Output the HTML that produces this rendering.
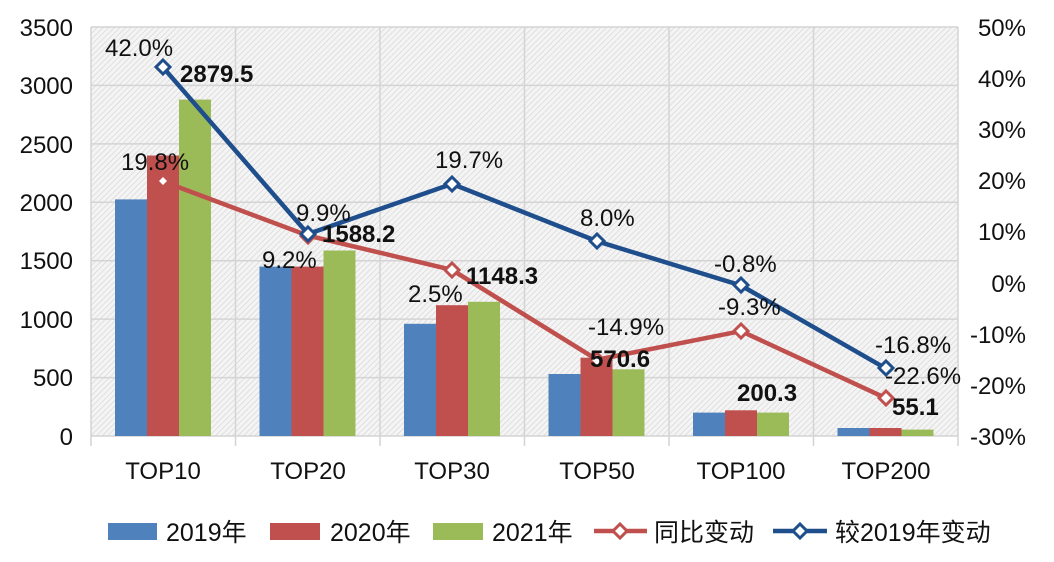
<!DOCTYPE html>
<html><head><meta charset="utf-8"><style>
body{margin:0;background:#fff}
svg{display:block}
text{font-family:"Liberation Sans","Noto Sans CJK SC",sans-serif;fill:#111}
</style></head><body>
<svg width="1054" height="562" viewBox="0 0 1054 562">
<defs>
<pattern id="h" width="4" height="4" patternUnits="userSpaceOnUse" patternTransform="rotate(45)">
<rect width="4" height="4" fill="#f4f4f4"/><line x1="0" y1="0" x2="0" y2="4" stroke="#d2d2d2" stroke-width="1.2"/>
</pattern>
</defs>
<rect x="91" y="27" width="867" height="409" fill="url(#h)"/>
<g stroke="#d4d4d4" stroke-width="1.5">
<line x1="91" y1="27" x2="958" y2="27"/>
<line x1="91" y1="85.4" x2="958" y2="85.4"/>
<line x1="91" y1="143.9" x2="958" y2="143.9"/>
<line x1="91" y1="202.3" x2="958" y2="202.3"/>
<line x1="91" y1="260.7" x2="958" y2="260.7"/>
<line x1="91" y1="319.1" x2="958" y2="319.1"/>
<line x1="91" y1="377.6" x2="958" y2="377.6"/>
<line x1="91" y1="436" x2="958" y2="436"/>
<line x1="91" y1="27" x2="91" y2="446"/>
<line x1="235.5" y1="27" x2="235.5" y2="446"/>
<line x1="380" y1="27" x2="380" y2="446"/>
<line x1="524.5" y1="27" x2="524.5" y2="446"/>
<line x1="669" y1="27" x2="669" y2="446"/>
<line x1="813.5" y1="27" x2="813.5" y2="446"/>
<line x1="958" y1="27" x2="958" y2="446"/>
</g>
<g font-size="24" text-anchor="end">
<text x="73" y="36">3500</text><text x="73" y="94">3000</text><text x="73" y="153">2500</text>
<text x="73" y="211">2000</text><text x="73" y="269">1500</text><text x="73" y="328">1000</text>
<text x="73" y="386">500</text><text x="73" y="445">0</text>
</g>
<g font-size="24" text-anchor="end">
<text x="1026" y="36">50%</text><text x="1026" y="87">40%</text><text x="1026" y="138">30%</text>
<text x="1026" y="189">20%</text><text x="1026" y="240">10%</text><text x="1026" y="292">0%</text>
<text x="1026" y="343">-10%</text><text x="1026" y="394">-20%</text><text x="1026" y="445">-30%</text>
</g>
<g>
<rect x="115" y="199.4" width="32" height="236.6" fill="#4f81bd"/>
<rect x="147" y="155.5" width="32" height="280.5" fill="#c0504d"/>
<rect x="179" y="99.6" width="32" height="336.4" fill="#9bbb59"/>
<rect x="259.5" y="266.6" width="32" height="169.4" fill="#4f81bd"/>
<rect x="291.5" y="266.6" width="32" height="169.4" fill="#c0504d"/>
<rect x="323.5" y="250.5" width="32" height="185.5" fill="#9bbb59"/>
<rect x="404" y="323.8" width="32" height="112.2" fill="#4f81bd"/>
<rect x="436" y="305.2" width="32" height="130.8" fill="#c0504d"/>
<rect x="468" y="301.8" width="32" height="134.2" fill="#9bbb59"/>
<rect x="548.5" y="374" width="32" height="62" fill="#4f81bd"/>
<rect x="580.5" y="357.7" width="32" height="78.3" fill="#c0504d"/>
<rect x="612.5" y="369.3" width="32" height="66.7" fill="#9bbb59"/>
<rect x="693" y="412.6" width="32" height="23.4" fill="#4f81bd"/>
<rect x="725" y="410.3" width="32" height="25.7" fill="#c0504d"/>
<rect x="757" y="412.6" width="32" height="23.4" fill="#9bbb59"/>
<rect x="837.5" y="428" width="32" height="8" fill="#4f81bd"/>
<rect x="869.5" y="428" width="32" height="8" fill="#c0504d"/>
<rect x="901.5" y="429.6" width="32" height="6.4" fill="#9bbb59"/>
</g>
<polyline points="163,181.4 308,235.6 452,269.9 597,359.7 741,331.1 886,398.2" fill="none" stroke="#c0504d" stroke-width="4.5"/>
<polyline points="163,67.3 308,234 452,183.9 597,241.2 741,285.5 886,368.6" fill="none" stroke="#1f4e8c" stroke-width="4.5"/>
<g fill="#fff" stroke-width="3">
<path d="M163,177 l4,4 l-4,4 l-4,-4z" stroke="none"/>
<path d="M308,229 l7,7 l-7,7 l-7,-7z" stroke="#c0504d"/>
<path d="M452,263 l7,7 l-7,7 l-7,-7z" stroke="#c0504d"/>
<path d="M597,353 l7,7 l-7,7 l-7,-7z" stroke="#c0504d"/>
<path d="M741,324 l7,7 l-7,7 l-7,-7z" stroke="#c0504d"/>
<path d="M886,391 l7,7 l-7,7 l-7,-7z" stroke="#c0504d"/>
<path d="M163,60 l7,7 l-7,7 l-7,-7z" stroke="#1f4e8c"/>
<path d="M308,227 l7,7 l-7,7 l-7,-7z" stroke="#1f4e8c"/>
<path d="M452,177 l7,7 l-7,7 l-7,-7z" stroke="#1f4e8c"/>
<path d="M597,234 l7,7 l-7,7 l-7,-7z" stroke="#1f4e8c"/>
<path d="M741,278 l7,7 l-7,7 l-7,-7z" stroke="#1f4e8c"/>
<path d="M886,361 l7,7 l-7,7 l-7,-7z" stroke="#1f4e8c"/>
</g>
<g font-size="24">
<text x="105" y="56">42.0%</text>
<text x="121" y="170">19.8%</text>
<text x="262" y="268">9.2%</text>
<text x="296" y="221">9.9%</text>
<text x="408" y="302">2.5%</text>
<text x="435" y="168">19.7%</text>
<text x="580" y="226">8.0%</text>
<text x="588" y="335">-14.9%</text>
<text x="718" y="315">-9.3%</text>
<text x="714" y="272">-0.8%</text>
<text x="875" y="353">-16.8%</text>
<text x="885" y="384">-22.6%</text>
</g>
<g font-size="24" font-weight="bold">
<text x="180" y="82">2879.5</text>
<text x="322" y="242">1588.2</text>
<text x="466" y="284">1148.3</text>
<text x="590" y="367">570.6</text>
<text x="737" y="401">200.3</text>
<text x="892" y="415">55.1</text>
</g>
<g font-size="24" text-anchor="middle">
<text x="163" y="479">TOP10</text><text x="308" y="479">TOP20</text><text x="452" y="479">TOP30</text>
<text x="597" y="479">TOP50</text><text x="741" y="479">TOP100</text><text x="886" y="479">TOP200</text>
</g>
<g font-size="25">
<rect x="108" y="523" width="49" height="17" fill="#4f81bd"/><text x="166" y="541">2019年</text>
<rect x="270" y="523" width="50" height="17" fill="#c0504d"/><text x="330" y="541">2020年</text>
<rect x="433" y="523" width="50" height="17" fill="#9bbb59"/><text x="492" y="541">2021年</text>
<line x1="594" y1="531" x2="647" y2="531" stroke="#c0504d" stroke-width="4.5"/>
<path d="M620,524 l7,7 l-7,7 l-7,-7z" fill="#fff" stroke="#c0504d" stroke-width="3"/>
<text x="654" y="541">同比变动</text>
<line x1="773" y1="531" x2="827" y2="531" stroke="#1f4e8c" stroke-width="4.5"/>
<path d="M800,524 l7,7 l-7,7 l-7,-7z" fill="#fff" stroke="#1f4e8c" stroke-width="3"/>
<text x="835" y="541">较2019年变动</text>
</g>
</svg>
</body></html>
